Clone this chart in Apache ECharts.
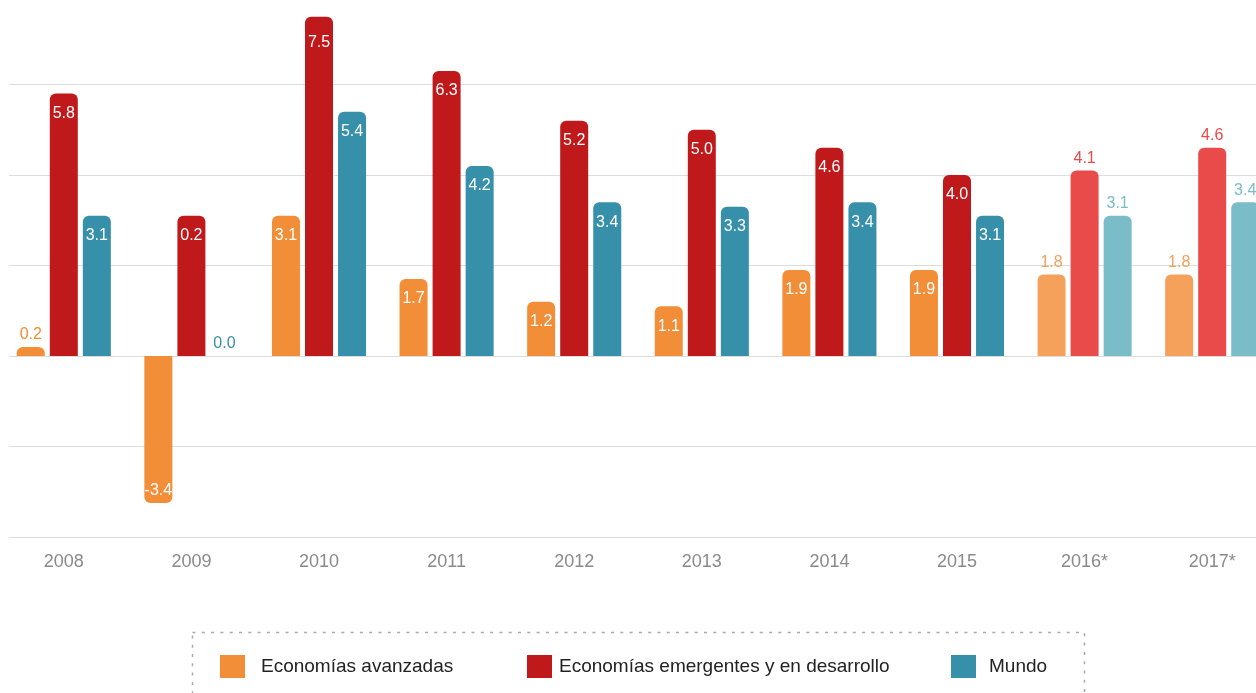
<!DOCTYPE html>
<html>
<head>
<meta charset="utf-8">
<script src="https://cdn.jsdelivr.net/npm/echarts@6/dist/echarts.min.js"></script>
<style>
html,body{margin:0;padding:0;background:#fff;}
#chart{width:1256px;height:693px;}
</style>
</head>
<body>
<div id="chart"></div>
<script>
const years = ['2008','2009','2010','2011','2012','2013','2014','2015','2016*','2017*'];
// bar heights as drawn in the picture
const advanced = [0.2, -3.25, 3.1, 1.7, 1.2, 1.1, 1.9, 1.9, 1.8, 1.8];
const emerging = [5.8, 3.1, 7.5, 6.3, 5.2, 5.0, 4.6, 4.0, 4.1, 4.6];
const world = [3.1, 0.0, 5.4, 4.2, 3.4, 3.3, 3.4, 3.1, 3.1, 3.4];
// value labels as printed in the picture
const advancedLabels = ['0.2', '-3.4', '3.1', '1.7', '1.2', '1.1', '1.9', '1.9', '1.8', '1.8'];
const emergingLabels = ['5.8', '0.2', '7.5', '6.3', '5.2', '5.0', '4.6', '4.0', '4.1', '4.6'];
const worldLabels = ['3.1', '0.0', '5.4', '4.2', '3.4', '3.3', '3.4', '3.1', '3.1', '3.4'];
const projected = [false, false, false, false, false, false, false, false, true, true];
const seriesNames = ['Economías avanzadas', 'Economías emergentes y en desarrollo', 'Mundo'];
const yTicks = [-4, -2, 0, 2, 4, 6, 8];

const baseColors = ['#F28D38', '#BF191B', '#3790A9'];
const lightColors = ['#F5A05B', '#E84B4A', '#7BBCC9'];
const FONT = '"Liberation Sans", Arial, Helvetica, sans-serif';

function buildData(values, idx, labels) {
  return values.map(function (v, i) {
    const proj = projected[i];
    const color = proj ? lightColors[idx] : baseColors[idx];
    const txt = labels[i];
    let label;
    if (proj || (v >= 0 && v < 0.5)) {
      label = { show: true, position: 'top', distance: 4, color: color, formatter: txt };
    } else if (v < 0) {
      label = { show: true, position: 'insideBottom', distance: 4, color: '#fff', formatter: txt };
    } else {
      label = { show: true, position: 'insideTop', distance: v > 7 ? 18 : 12, color: '#fff', formatter: txt };
    }
    return {
      value: v,
      itemStyle: { color: color, borderRadius: v < 0 ? [0, 0, 6, 6] : [6, 6, 0, 0] },
      label: label
    };
  });
}

const chart = echarts.init(document.getElementById('chart'), null, { renderer: 'canvas' });

function legendAt(left, name, gap) {
  return {
    left: left,
    top: 655,
    padding: 0,
    itemWidth: 25,
    itemHeight: 23,
    icon: 'rect',
    selectedMode: false,
    data: [name],
    textStyle: { fontFamily: FONT, fontSize: 19, color: '#222', padding: [0, 0, 0, gap] }
  };
}

chart.setOption({
  animation: false,
  backgroundColor: '#fff',
  textStyle: { fontFamily: FONT },
  grid: [
    { left: 9, right: -40, top: -6, bottom: 156, outerBoundsMode: 'none', containLabel: false },
    { left: 0, right: -20, top: -6, bottom: 156, outerBoundsMode: 'none', containLabel: false }
  ],
  xAxis: [
    { type: 'value', gridIndex: 0, show: false, min: 0, max: 1 },
    {
      type: 'category', gridIndex: 1, data: years,
      axisLine: { show: false }, axisTick: { show: false },
      axisLabel: { color: '#8a8a8a', fontSize: 18, margin: 16, fontFamily: FONT }
    }
  ],
  yAxis: [
    {
      type: 'value', gridIndex: 0, min: yTicks[0], max: yTicks[yTicks.length - 1], interval: 2,
      axisLabel: { show: false }, axisLine: { show: false }, axisTick: { show: false },
      splitLine: { show: true, lineStyle: { color: '#dddddd', width: 1 } }
    },
    {
      type: 'value', gridIndex: 1, min: yTicks[0], max: yTicks[yTicks.length - 1], interval: 2,
      axisLabel: { show: false }, axisLine: { show: false }, axisTick: { show: false },
      splitLine: { show: false }
    }
  ],
  legend: [
    legendAt(220, seriesNames[0], 11),
    legendAt(527, seriesNames[1], 2),
    legendAt(951, seriesNames[2], 8)
  ],
  graphic: [
    {
      type: 'rect', silent: true,
      shape: { x: 192.5, y: 632.5, width: 892, height: 120 },
      style: { fill: 'none', stroke: '#aaaaaa', lineWidth: 1.5, lineDash: [3, 6.3] }
    }
  ],
  series: [
    {
      name: seriesNames[0], type: 'bar', xAxisIndex: 1, yAxisIndex: 1,
      barWidth: 28, barGap: '18%',
      itemStyle: { color: baseColors[0] },
      label: { fontSize: 16, fontFamily: FONT },
      data: buildData(advanced, 0, advancedLabels)
    },
    {
      name: seriesNames[1], type: 'bar', xAxisIndex: 1, yAxisIndex: 1,
      barWidth: 28, barGap: '18%',
      itemStyle: { color: baseColors[1] },
      label: { fontSize: 16, fontFamily: FONT },
      data: buildData(emerging, 1, emergingLabels)
    },
    {
      name: seriesNames[2], type: 'bar', xAxisIndex: 1, yAxisIndex: 1,
      barWidth: 28, barGap: '18%',
      itemStyle: { color: baseColors[2] },
      label: { fontSize: 16, fontFamily: FONT },
      data: buildData(world, 2, worldLabels)
    }
  ]
});
</script>
</body>
</html>
